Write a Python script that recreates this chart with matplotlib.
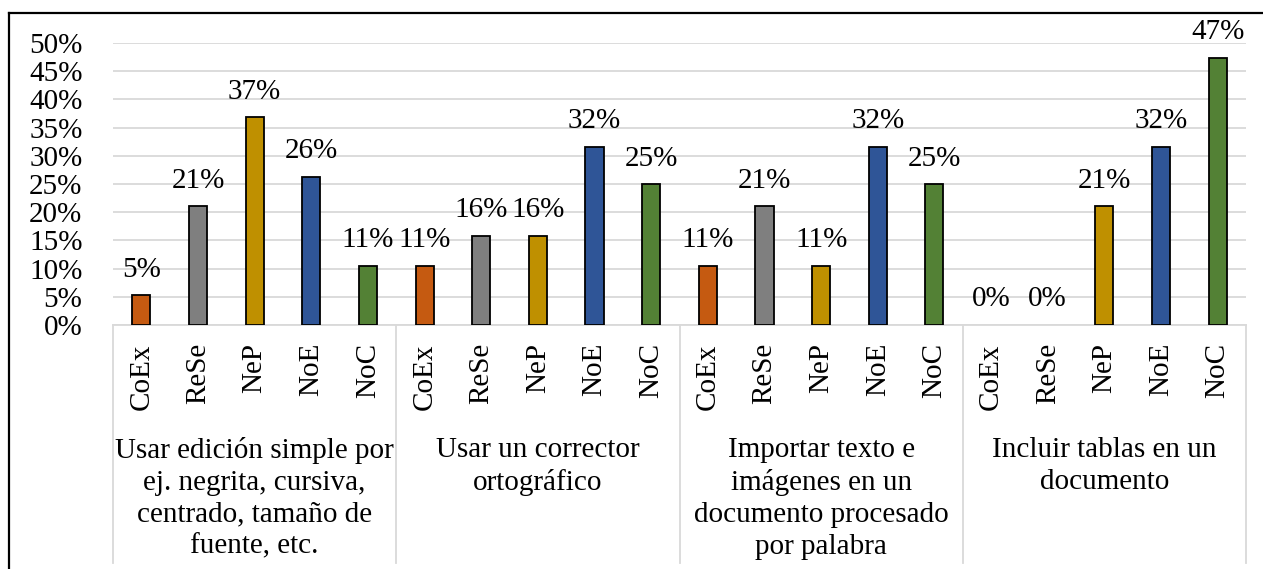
import matplotlib
matplotlib.use("Agg")
import matplotlib.pyplot as plt
import matplotlib.transforms as mtransforms
from matplotlib.lines import Line2D
from matplotlib.ticker import FuncFormatter
import numpy as np

# Data (percent)
groups = ["Usar edición simple por\nej. negrita, cursiva,\ncentrado, tamaño de\nfuente, etc.",
          "Usar un corrector\nortográfico",
          "Importar texto e\nimágenes en un\ndocumento procesado\npor palabra",
          "Incluir tablas en un\ndocumento"]
levels = ["CoEx", "ReSe", "NeP", "NoE", "NoC"]
level_colors = ["#C55A11", "#7F7F7F", "#BF9000", "#2F5597", "#538135"]
values = [
    [5.26, 21.05, 36.84, 26.32, 10.53],
    [10.53, 15.79, 15.79, 31.58, 25.0],
    [10.53, 21.05, 10.53, 31.58, 25.0],
    [0.0, 0.0, 21.05, 31.58, 47.37],
]
yticks = [0, 5, 10, 15, 20, 25, 30, 35, 40, 45, 50]

plt.rcParams['font.family'] = ['Liberation Serif', 'DejaVu Serif']
FS = 21

W, H = 1263, 569
fig = plt.figure(figsize=(W / 100, H / 100), dpi=100)
ax = fig.add_axes([113 / W, (H - 325) / H, (1246 - 113) / W, (325 - 43) / H])

n = len(levels)
xs = []
for g in range(len(groups)):
    x = np.arange(n) + g * n
    xs.append(x)
    # zero-height bars are not drawn in the original
    edges = ["black" if v > 0 else "none" for v in values[g]]
    bars = ax.bar(x, values[g], width=0.32, color=level_colors,
                  edgecolor=edges, linewidth=1.3, zorder=3)
    ax.bar_label(bars, labels=["%d%%" % round(v) for v in values[g]],
                 padding=9, fontsize=FS)

ax.set_xlim(-0.5, len(groups) * n - 0.5)
ax.set_ylim(0, 50)
ax.set_yticks(yticks)
ax.yaxis.set_major_formatter(FuncFormatter(lambda v, p: "%d%%" % v))
ax.tick_params(axis="y", length=0, pad=22, labelsize=FS)
ax.tick_params(axis="x", length=0, labelbottom=False)
ax.yaxis.grid(True, color="#D9D9D9", linewidth=1.3, zorder=0)
for s in ax.spines.values():
    s.set_visible(False)

# Multi-level category axis
trans = mtransforms.blended_transform_factory(ax.transData, ax.transAxes)
box_bottom = -(563 - 325) / (325 - 43)
ax.plot([-0.5, len(groups) * n - 0.5], [0, 0], color="#D9D9D9", lw=1.3,
        transform=trans, clip_on=False, zorder=2)
for g in range(len(groups) + 1):
    xb = g * n - 0.5
    ax.plot([xb, xb], [0, box_bottom], color="#D9D9D9", lw=1.3,
            transform=trans, clip_on=False)
for g in range(len(groups)):
    for i, lab in enumerate(levels):
        ax.text(xs[g][i], -(343 - 325) / 282, lab, rotation=90, ha="center",
                va="top", fontsize=FS, transform=trans)
    ax.text(g * n + (n - 1) / 2, -(437 - 325) / 282, groups[g], ha="center",
            va="top", multialignment="center", fontsize=FS, linespacing=1.29,
            transform=trans)

# chart border (left and top edges visible)
fig.add_artist(Line2D([9 / W, 9 / W], [0, (H - 12.5) / H], color="black", lw=1.6))
fig.add_artist(Line2D([9 / W, 1], [(H - 12.5) / H, (H - 12.5) / H], color="black", lw=1.6))

fig.savefig("out.png", dpi=100)
